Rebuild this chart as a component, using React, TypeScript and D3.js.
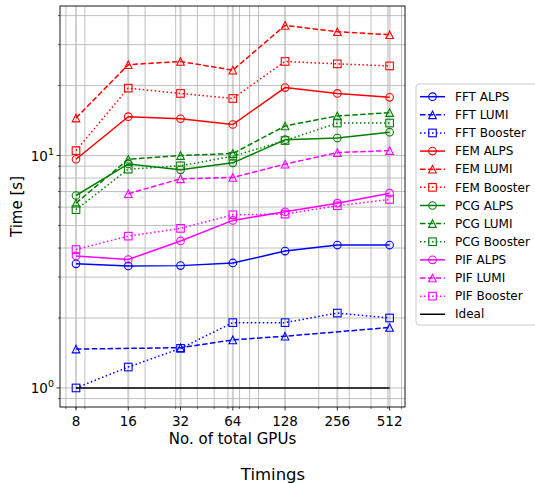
import React from "react";
import * as d3 from "d3";

const gpus = [8, 16, 32, 64, 128, 256, 512];
const fftAlps = [3.42, 3.35, 3.36, 3.45, 3.88, 4.12, 4.12];
const fftLumi = [1.47, null, 1.49, 1.61, 1.67, null, 1.82];
const fftBooster = [1.0, 1.23, 1.48, 1.91, 1.91, 2.1, 2.0];
const femAlps = [9.64, 14.7, 14.4, 13.6, 19.6, 18.5, 17.8];
const femLumi = [14.5, 24.6, 25.4, 23.3, 36.3, 34.1, 33.1];
const femBooster = [10.5, 19.5, 18.5, 17.6, 25.4, 24.8, 24.3];
const pcgAlps = [6.73, 9.2, 8.68, 9.3, 11.7, 11.9, 12.6];
const pcgLumi = [6.24, 9.64, 10.0, 10.2, 13.4, 14.8, 15.3];
const pcgBooster = [5.85, 8.74, 9.03, 9.93, 11.6, 13.8, 13.8];
const pifAlps = [3.7, 3.57, 4.29, 5.26, 5.73, 6.24, 6.89];
const pifLumi = [null, 6.85, 7.94, 8.05, 9.18, 10.3, 10.5];
const pifBooster = [3.94, 4.5, 4.86, 5.56, 5.6, 6.08, 6.47];
const ideal = [1, 1, 1, 1, 1, 1, 1];

const xTickLabels = ["8", "16", "32", "64", "128", "256", "512"];
const xMinor = [7, 8, 9, 20, 30, 40, 50, 60, 70, 80, 90, 200, 300, 400, 500, 600];
const yMajor = [1, 10];
const yMinor = [0.9, 2, 3, 4, 5, 6, 7, 8, 9, 20, 30, 40];

type S = { name: string; values: (number | null)[]; color: string; dash: string | null; marker: string | null };

const series: S[] = [
  { name: "FFT ALPS", values: fftAlps, color: "#0000ff", dash: null, marker: "o" },
  { name: "FFT LUMI", values: fftLumi, color: "#0000ff", dash: "5.5,2.4", marker: "^" },
  { name: "FFT Booster", values: fftBooster, color: "#0000ff", dash: "1.5,2.5", marker: "s" },
  { name: "FEM ALPS", values: femAlps, color: "#ff0000", dash: null, marker: "o" },
  { name: "FEM LUMI", values: femLumi, color: "#ff0000", dash: "5.5,2.4", marker: "^" },
  { name: "FEM Booster", values: femBooster, color: "#ff0000", dash: "1.5,2.5", marker: "s" },
  { name: "PCG ALPS", values: pcgAlps, color: "#008000", dash: null, marker: "o" },
  { name: "PCG LUMI", values: pcgLumi, color: "#008000", dash: "5.5,2.4", marker: "^" },
  { name: "PCG Booster", values: pcgBooster, color: "#008000", dash: "1.5,2.5", marker: "s" },
  { name: "PIF ALPS", values: pifAlps, color: "#ff00ff", dash: null, marker: "o" },
  { name: "PIF LUMI", values: pifLumi, color: "#ff00ff", dash: "5.5,2.4", marker: "^" },
  { name: "PIF Booster", values: pifBooster, color: "#ff00ff", dash: "1.5,2.5", marker: "s" },
  { name: "Ideal", values: ideal, color: "#000000", dash: null, marker: null },
];

const L = 60, R = 405, T = 6, B = 407;
const x = d3.scaleLog().base(2).domain([6.47, 628]).range([L, R]);
const y = d3.scaleLog().domain([0.828, 44.0]).range([B, T]);

const MS = 3.8;

function Marker({ kind, cx, cy, color }: { kind: string; cx: number; cy: number; color: string }) {
  if (kind === "o") return <circle cx={cx} cy={cy} r={MS} fill="none" stroke={color} strokeWidth={1.1} />;
  if (kind === "s")
    return <rect x={cx - MS} y={cy - MS} width={2 * MS} height={2 * MS} fill="none" stroke={color} strokeWidth={1.1} />;
  return (
    <path
      d={`M${cx},${cy - MS}L${cx + MS},${cy + MS}L${cx - MS},${cy + MS}Z`}
      fill="none"
      stroke={color}
      strokeWidth={1.1}
    />
  );
}

export default function App() {
  const line = d3
    .line<[number, number | null]>()
    .defined((d) => d[1] !== null)
    .x((d) => x(d[0]))
    .y((d) => y(d[1] as number));

  const font = "DejaVu Sans, sans-serif";
  const legX = 416, legY = 84, legStep = 18.13, legFirst = 96.7;

  return (
    <svg width={535} height={483} style={{ position: "absolute", left: 0, top: 0, background: "#fff" }} fontFamily={font}>
      <rect x={0} y={0} width={535} height={483} fill="#fff" />
      <defs>
        <clipPath id="plot">
          <rect x={L} y={T} width={R - L} height={B - T} />
        </clipPath>
      </defs>
      {/* grid */}
      <g>
        {xMinor.map((v) => (
          <line key={"xm" + v} x1={x(v)} x2={x(v)} y1={T} y2={B} stroke="#b0b0b0" strokeWidth={0.8} />
        ))}
        {gpus.map((v) => (
          <line key={"xM" + v} x1={x(v)} x2={x(v)} y1={T} y2={B} stroke="#d0d0d0" strokeWidth={2} />
        ))}
        {yMinor.map((v) => (
          <line key={"ym" + v} x1={L} x2={R} y1={y(v)} y2={y(v)} stroke="#b0b0b0" strokeWidth={0.8} />
        ))}
        {yMajor.map((v) => (
          <line key={"yM" + v} x1={L} x2={R} y1={y(v)} y2={y(v)} stroke="#b0b0b0" strokeWidth={0.8} />
        ))}
      </g>
      {/* series */}
      <g clipPath="url(#plot)">
        {series.map((s) => {
          const pts = gpus.map((g, i) => [g, s.values[i]] as [number, number | null]);
          const defined = pts.filter((p) => p[1] !== null);
          return (
            <g key={s.name}>
              <path
                d={line(defined) || ""}
                fill="none"
                stroke={s.color}
                strokeWidth={1.5}
                strokeDasharray={s.dash || undefined}
              />
              {s.marker &&
                defined.map((p, i) => (
                  <Marker key={i} kind={s.marker as string} cx={x(p[0])} cy={y(p[1] as number)} color={s.color} />
                ))}
            </g>
          );
        })}
      </g>
      {/* spines */}
      <rect x={L} y={T} width={R - L} height={B - T} fill="none" stroke="#000" strokeWidth={0.9} />
      {/* x ticks */}
      {xMinor.map((v) => (
        <line key={"xt" + v} x1={x(v)} x2={x(v)} y1={B} y2={B + 2} stroke="#000" strokeWidth={0.6} />
      ))}
      {gpus.map((v, i) => (
        <g key={"xT" + v}>
          <line x1={x(v)} x2={x(v)} y1={B} y2={B + 3.5} stroke="#000" strokeWidth={0.8} />
          <text x={x(v)} y={425.5} textAnchor="middle" fontSize={13.5} fill="#000">
            {xTickLabels[i]}
          </text>
        </g>
      ))}
      {/* y ticks */}
      {yMinor.map((v) => (
        <line key={"yt" + v} x1={L - 2} x2={L} y1={y(v)} y2={y(v)} stroke="#000" strokeWidth={0.6} />
      ))}
      {yMajor.map((v, i) => (
        <g key={"yT" + v}>
          <line x1={L - 3.5} x2={L} y1={y(v)} y2={y(v)} stroke="#000" strokeWidth={0.8} />
          <text x={54} y={y(v) + 5} textAnchor="end" fontSize={13.5} fill="#000">
            10
            <tspan dy={-6} fontSize={9.5}>
              {String(i)}
            </tspan>
          </text>
        </g>
      ))}
      {/* axis labels */}
      <text x={(L + R) / 2} y={444} textAnchor="middle" fontSize={15} fill="#000">
        No. of total GPUs
      </text>
      <text transform={`translate(22,${(T + B) / 2}) rotate(-90)`} textAnchor="middle" fontSize={15} fill="#000">
        Time [s]
      </text>
      <text x={273} y={480} textAnchor="middle" fontSize={16.5} fill="#000">
        Timings
      </text>
      {/* legend */}
      <rect x={legX} y={legY} width={140} height={241} rx={3} fill="#fff" fillOpacity={0.8} stroke="#cccccc" strokeWidth={1} />
      {series.map((s, i) => {
        const cy = legFirst + i * legStep;
        return (
          <g key={"leg" + s.name}>
            <line x1={420} x2={445} y1={cy} y2={cy} stroke={s.color} strokeWidth={1.5} strokeDasharray={s.dash || undefined} />
            {s.marker && <Marker kind={s.marker} cx={432.5} cy={cy} color={s.color} />}
            <text x={455} y={cy} dy="0.35em" fontSize={12} fill="#000">
              {s.name}
            </text>
          </g>
        );
      })}
    </svg>
  );
}
